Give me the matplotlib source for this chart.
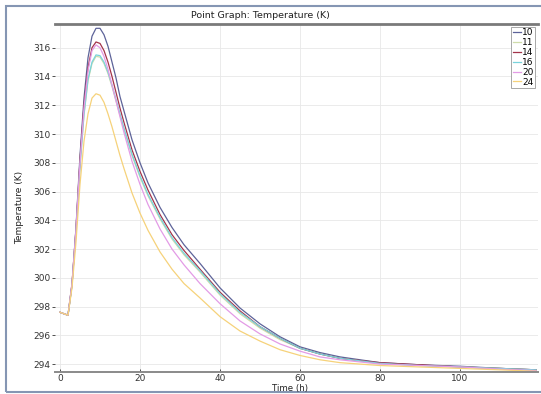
import matplotlib
matplotlib.use("Agg")
import matplotlib.pyplot as plt
from matplotlib.patches import Rectangle

# Sample times (h)
t = [0, 1, 2, 3, 4, 5, 6, 7, 8, 9, 10, 11, 12, 13, 14, 15, 16, 18, 20, 22,
     25, 28, 31, 35, 40, 45, 50, 55, 60, 65, 70, 80, 90, 100, 110, 119]

# Temperature (K) for each run
temp_10 = [297.6, 297.5, 297.4, 299.5, 303.5, 308.5, 312.5, 315.3, 316.8, 317.35,
           317.35, 316.9, 316.1, 315.0, 313.9, 312.6, 311.6, 309.6, 308.0, 306.6,
           304.9, 303.5, 302.3, 301.0, 299.3, 297.9, 296.8, 295.9, 295.2, 294.8,
           294.5, 294.1, 293.95, 293.85, 293.7, 293.6]
temp_11 = [297.6, 297.5, 297.4, 299.5, 303.2, 307.7, 311.3, 313.7, 314.9, 315.4,
           315.35, 314.9, 314.2, 313.3, 312.3, 311.3, 310.3, 308.5, 307.0, 305.7,
           304.1, 302.7, 301.6, 300.4, 298.8, 297.5, 296.5, 295.7, 295.1, 294.7,
           294.4, 294.05, 293.9, 293.8, 293.7, 293.6]
temp_14 = [297.6, 297.5, 297.4, 299.6, 303.4, 308.2, 312.0, 314.6, 316.0, 316.4,
           316.3, 315.8, 315.0, 314.0, 312.9, 311.8, 310.8, 308.9, 307.4, 306.1,
           304.4, 303.0, 301.9, 300.6, 299.0, 297.7, 296.6, 295.8, 295.1, 294.7,
           294.4, 294.1, 293.95, 293.8, 293.7, 293.6]
temp_16 = [297.6, 297.5, 297.4, 299.5, 303.2, 307.8, 311.4, 313.8, 315.0, 315.5,
           315.45, 315.0, 314.3, 313.4, 312.4, 311.4, 310.4, 308.6, 307.1, 305.8,
           304.2, 302.8, 301.7, 300.5, 298.9, 297.6, 296.6, 295.8, 295.1, 294.7,
           294.4, 294.05, 293.9, 293.8, 293.7, 293.6]
temp_20 = [297.6, 297.5, 297.4, 299.6, 303.3, 308.0, 311.8, 314.4, 315.8, 316.2,
           316.0, 315.4, 314.5, 313.4, 312.3, 311.2, 310.1, 308.1, 306.5, 305.1,
           303.4, 302.0, 300.9, 299.6, 298.2, 297.0, 296.1, 295.4, 294.9, 294.5,
           294.3, 294.0, 293.9, 293.8, 293.65, 293.55]
temp_24 = [297.6, 297.5, 297.4, 299.3, 302.5, 306.5, 309.5, 311.4, 312.5, 312.8,
           312.7, 312.2, 311.4, 310.5, 309.5, 308.5, 307.6, 305.9, 304.5, 303.3,
           301.8, 300.6, 299.6, 298.6, 297.3, 296.3, 295.6, 295.0, 294.6, 294.3,
           294.1, 293.9, 293.8, 293.7, 293.6, 293.5]

labels = ["10", "11", "14", "16", "20", "24"]
series = [temp_10, temp_11, temp_14, temp_16, temp_20, temp_24]
colors = ["#5d6399", "#cfdcaa", "#a3344a", "#79d3dc", "#e39be6", "#f6d27a"]

xticks = [0, 20, 40, 60, 80, 100]
yticks = list(range(294, 317, 2))

W, H = 541, 394
fig = plt.figure(figsize=(W / 100, H / 100), dpi=100)
fig.patch.set_facecolor("white")

# outer panel frame
fig.add_artist(Rectangle((6 / W, 1 - 392 / H), 1.2, (392 - 6) / H,
                         transform=fig.transFigure, fill=False,
                         edgecolor="#8596b3", linewidth=1.5))

ax = fig.add_axes([55 / W, 1 - 372 / H, (538 - 55) / W, (372 - 24) / H])

for lab, ys, c in zip(labels, series, colors):
    ax.plot(t, ys, color=c, linewidth=0.9, label=lab)

ax.set_xlim(-1.25, 119.5)
ax.set_ylim(293.45, 317.65)
ax.set_xticks(xticks)
ax.set_yticks(yticks)
ax.grid(True, color="#e8e8e8", linewidth=0.6)
ax.set_axisbelow(True)

for side in ("left", "right"):
    ax.spines[side].set_visible(False)
ax.spines["top"].set_color("#7a7a7a")
ax.spines["top"].set_linewidth(2.0)
ax.spines["bottom"].set_color("#8a8a8a")
ax.spines["bottom"].set_linewidth(1.4)

ax.tick_params(axis="both", labelsize=6.5, colors="#333333", length=2,
               width=0.6)
ax.tick_params(axis="x", direction="in", pad=1.5)
ax.tick_params(axis="y", direction="out", pad=1)

fig.text(260 / W, 1 - 16 / H, "Point Graph: Temperature (K)", ha="center",
         va="center", fontsize=6.8, color="#222222")
fig.text(290 / W, 1 - 389 / H, "Time (h)", ha="center", va="center",
         fontsize=6.2, color="#222222")
fig.text(20 / W, 1 - 207 / H, "Temperature (K)", ha="center", va="center",
         rotation=90, fontsize=6.5, color="#222222")

leg = ax.legend(loc="upper right", fontsize=6.5, handlelength=0.9,
                handletextpad=0.2, borderpad=0.15, labelspacing=0.1,
                borderaxespad=0.3, fancybox=False, framealpha=1,
                markerfirst=True)
leg.get_frame().set_edgecolor("#999999")
leg.get_frame().set_linewidth(0.6)

fig.savefig("out.png", dpi=100, facecolor="white")
